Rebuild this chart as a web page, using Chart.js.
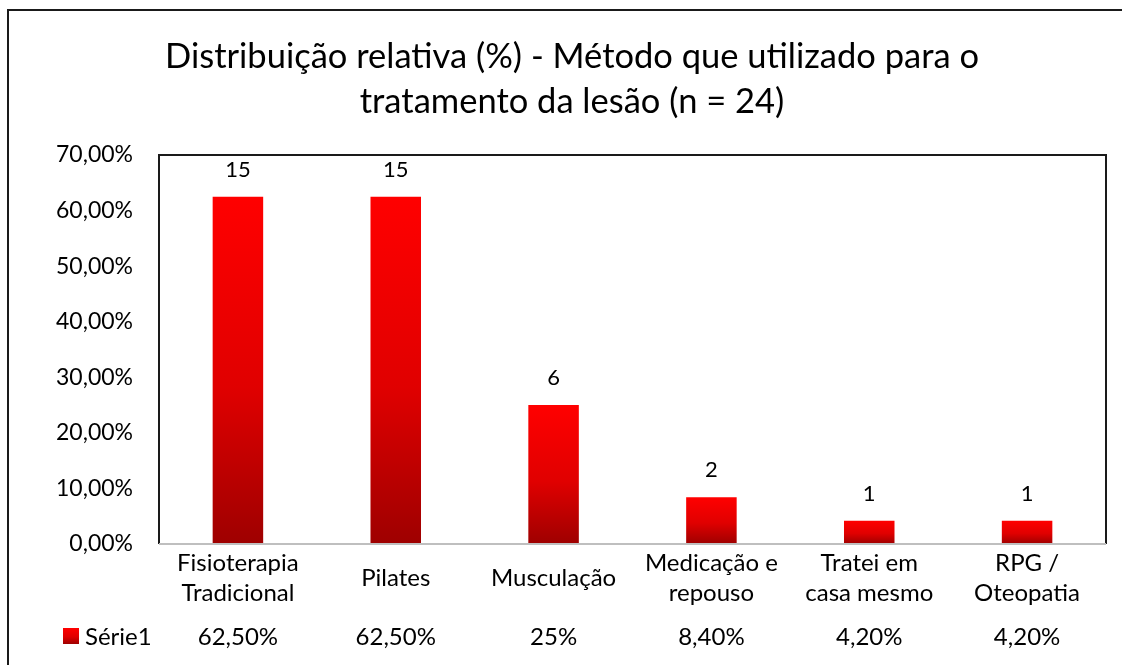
<!DOCTYPE html>
<html>
<head>
<meta charset="utf-8">
<script src="https://cdn.jsdelivr.net/npm/chart.js@4.4.1/dist/chart.umd.min.js"></script>
<style>
  html, body { margin: 0; padding: 0; background: #fff; }
  canvas { display: block; }
</style>
</head>
<body>
<canvas id="chart" width="1122" height="665"></canvas>
<script>
// data
const titleLines = [
    "Distribuição relativa (%) - Método que utilizado para o",
    "tratamento da lesão (n = 24)"
];
const categories = [
    ["Fisioterapia", "Tradicional"],
    "Pilates",
    "Musculação",
    ["Medicação e", "repouso"],
    ["Tratei em", "casa mesmo"],
    ["RPG /", "Oteopatia"]
];
const percentages = [62.5, 62.5, 25, 8.4, 4.2, 4.2];
const counts = [15, 15, 6, 2, 1, 1];
const tableValues = ["62,50%", "62,50%", "25%", "8,40%", "4,20%", "4,20%"];
const seriesName = "Série1";
const yTicks = [0, 10, 20, 30, 40, 50, 60, 70];

const FONT = "Lato, 'Open Sans', sans-serif";

// red gradient per bar, bright at the top, dark at the base
function barGradient(ctx, top, bottom) {
    let g = ctx.createLinearGradient(0, top, 0, bottom);
    g.addColorStop(0, "#ff0000");
    g.addColorStop(0.55, "#e00000");
    g.addColorStop(1, "#9e0000");
    return g;
}

const decor = {
    id: "decor",
    afterDraw(chart) {
        const ctx = chart.ctx;
        const area = chart.chartArea;
        const x = chart.scales.x;
        ctx.save();

        // outer frame
        ctx.strokeStyle = "#1a1a1a";
        ctx.lineWidth = 2;
        ctx.strokeRect(8, 10, 1200, 800);

        // title
        ctx.fillStyle = "#000";
        ctx.font = "34.5px " + FONT;
        ctx.textAlign = "center";
        ctx.textBaseline = "middle";
        ctx.fillText(titleLines[0], 572, 57);
        ctx.fillText(titleLines[1], 572, 102);

        // plot frame
        ctx.strokeStyle = "#1a1a1a";
        ctx.lineWidth = 2;
        ctx.beginPath();
        ctx.moveTo(area.left, area.bottom);
        ctx.lineTo(area.left, area.top);
        ctx.lineTo(area.right, area.top);
        ctx.lineTo(area.right, area.bottom);
        ctx.stroke();
        ctx.strokeStyle = "#bfbfbf";
        ctx.beginPath();
        ctx.moveTo(area.left, area.bottom);
        ctx.lineTo(area.right, area.bottom);
        ctx.stroke();

        // count labels above bars
        ctx.fillStyle = "#000";
        ctx.font = "22px " + FONT;
        const meta = chart.getDatasetMeta(0);
        meta.data.forEach((bar, i) => {
            ctx.fillText(String(counts[i]), bar.x, bar.y - 27);
        });

        // data table row
        const rowY = 637;
        ctx.font = "24px " + FONT;
        ctx.fillStyle = barGradient(ctx, 628, 644);
        ctx.fillRect(63, 628, 16, 16);
        ctx.fillStyle = "#000";
        ctx.textAlign = "left";
        ctx.fillText(seriesName, 85, rowY);
        ctx.textAlign = "center";
        tableValues.forEach((v, i) => {
            ctx.fillText(v, x.getPixelForTick(i), rowY);
        });

        ctx.restore();
    }
};

const ctx = document.getElementById("chart").getContext("2d");

new Chart(ctx, {
    type: "bar",
    data: {
        labels: categories,
        datasets: [{
            label: seriesName,
            data: percentages,
            backgroundColor: (c) => {
                const chart = c.chart;
                if (!chart.chartArea || c.dataIndex === undefined) return "#e00000";
                const ys = chart.scales.y;
                return barGradient(chart.ctx, ys.getPixelForValue(c.raw), ys.getPixelForValue(0));
            },
            borderWidth: 0,
            categoryPercentage: 1,
            barPercentage: 0.32
        }]
    },
    options: {
        responsive: false,
        animation: false,
        devicePixelRatio: 1,
        layout: { padding: { top: 155, left: 0, right: 16, bottom: 0 } },
        plugins: {
            legend: { display: false },
            tooltip: { enabled: false },
            title: { display: false }
        },
        scales: {
            x: {
                grid: { display: false, drawTicks: false },
                border: { display: false },
                ticks: {
                    color: "#000",
                    font: { family: FONT, size: 24, lineHeight: 1.25 },
                    padding: 19,
                    maxRotation: 0,
                    autoSkip: false,
                    crossAlign: "center"
                },
                afterFit(scale) { scale.height = 121; }
            },
            y: {
                min: 0,
                max: 70,
                grid: { display: false, drawTicks: false },
                border: { display: false },
                afterBuildTicks(scale) {
                    scale.ticks = yTicks.map(v => ({ value: v }));
                },
                ticks: {
                    color: "#000",
                    font: { family: FONT, size: 23 },
                    padding: 26,
                    callback: (v) => v.toFixed(2).replace(".", ",") + "%"
                },
                afterFit(scale) { scale.width = 159; }
            }
        }
    },
    plugins: [decor]
});
</script>
</body>
</html>
